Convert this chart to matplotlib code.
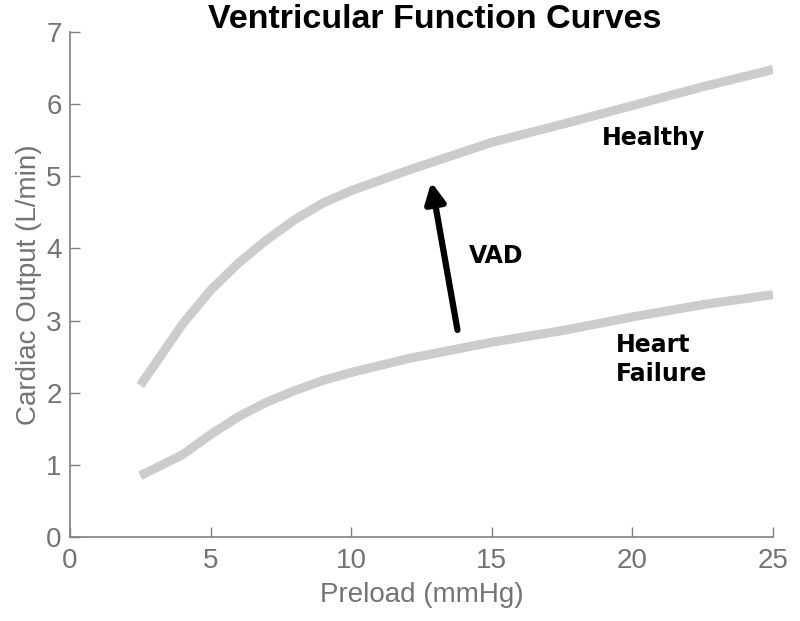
import matplotlib
matplotlib.use("Agg")
import matplotlib.pyplot as plt
from matplotlib import font_manager

preload = [2.5, 4, 5, 6, 7, 8, 9, 10, 12, 15, 17.5, 20, 22.5, 25]
healthy = [2.1, 2.95, 3.42, 3.8, 4.12, 4.4, 4.63, 4.8, 5.08, 5.47, 5.72, 5.98, 6.24, 6.48]
failure = [0.85, 1.14, 1.42, 1.67, 1.87, 2.03, 2.17, 2.28, 2.47, 2.7, 2.86, 3.05, 3.22, 3.36]

xticks = [0, 5, 10, 15, 20, 25]
yticks = [0, 1, 2, 3, 4, 5, 6, 7]

names = {f.name for f in font_manager.fontManager.ttflist}
narrow = ['Liberation Sans Narrow', 'Liberation Sans', 'DejaVu Sans']
narrow = [n for n in narrow if n in names] or ['DejaVu Sans']

fig = plt.figure(figsize=(8, 6.21), dpi=100)
ax = fig.add_axes([0.0875, 0.1353, 0.8787, 0.8132])

line_color = '#cccccc'
ax.plot(preload, healthy, color=line_color, lw=6.5, solid_capstyle='butt')
ax.plot(preload, failure, color=line_color, lw=6.5, solid_capstyle='butt')

ax.annotate('', xy=(12.85, 4.92), xytext=(13.78, 2.87),
            arrowprops=dict(arrowstyle='-|>,head_length=1.2,head_width=0.6',
                            color='black', lw=4.5, shrinkA=0, shrinkB=0))

ax.text(18.9, 5.53, 'Healthy', fontsize=17, fontweight='bold', family='DejaVu Sans',
        ha='left', va='center')
ax.text(14.2, 3.9, 'VAD', fontsize=17, fontweight='bold', family='DejaVu Sans',
        ha='left', va='center')
ax.text(19.4, 2.66, 'Heart', fontsize=17, fontweight='bold', family='DejaVu Sans',
        ha='left', va='center')
ax.text(19.4, 2.26, 'Failure', fontsize=17, fontweight='bold', family='DejaVu Sans',
        ha='left', va='center')

ax.set_xlim(0, 25)
ax.set_ylim(0, 7)
ax.set_xticks(xticks)
ax.set_yticks(yticks)

gray = '#7f7f7f'
for s in ['top', 'right']:
    ax.spines[s].set_visible(False)
for s in ['left', 'bottom']:
    ax.spines[s].set_color(gray)
    ax.spines[s].set_linewidth(1.2)
ax.tick_params(direction='in', length=7, width=1, colors=gray, labelsize=20)
ax.tick_params(axis='x', pad=8)
ax.tick_params(axis='y', pad=6)
for lab in ax.get_xticklabels() + ax.get_yticklabels():
    lab.set_family(narrow)
    lab.set_color('#737373')

ax.set_xlabel('Preload (mmHg)', fontsize=20, color='#737373', family=narrow, labelpad=6)
ax.set_ylabel('Cardiac Output (L/min)', fontsize=20, color='#737373', family=narrow, labelpad=3)

fig.text(0.543, 0.968, 'Ventricular Function Curves', fontsize=24.5, fontweight='bold',
         family=narrow, ha='center', va='center')

fig.savefig('out.png', dpi=100)
